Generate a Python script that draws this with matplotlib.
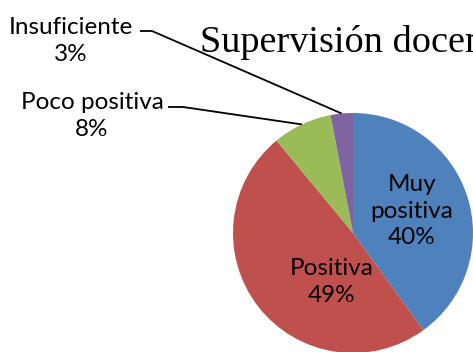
import numpy as np
import matplotlib
matplotlib.use("Agg")
import matplotlib.pyplot as plt

# Survey results: perception of teacher supervision
categories = ["Muy positiva", "Positiva", "Poco positiva", "Insuficiente"]
percentages = [40, 49, 8, 3]
colors = ["#4F81BD", "#C0504D", "#9BBB59", "#8064A2"]
title = "Supervisión docente"

W, H = 473, 352
fig = plt.figure(figsize=(W / 100, H / 100), dpi=100)
ax = fig.add_axes([0, 0, 1, 1])

def yi(y):
    """Convert a top-down pixel row into the axes' bottom-up coordinate."""
    return H - y

cx, cy, R = 353, yi(233), 120
wedges, _ = ax.pie(percentages, colors=colors, startangle=90, counterclock=False,
                   center=(cx, cy), radius=R,
                   wedgeprops=dict(linewidth=0))
ax.set_xlim(0, W)
ax.set_ylim(0, H)
ax.set_aspect("equal")
ax.axis("off")

label_font = dict(family=["Lato", "DejaVu Sans"], fontsize=17.5, color="black")

def wedge_point(i):
    w = wedges[i]
    ang = np.deg2rad((w.theta1 + w.theta2) / 2)
    return cx + R * np.cos(ang), cy + R * np.sin(ang)

# Inside labels
ax.text(412, yi(211), f"{categories[0]}\n{percentages[0]}%".replace("Muy positiva", "Muy\npositiva"),
        ha="center", va="center", multialignment="center", linespacing=1.35, **label_font)
ax.text(332, yi(282), f"{categories[1]}\n{percentages[1]}%",
        ha="center", va="center", multialignment="center", linespacing=1.35, **label_font)

# Outside labels with leader lines
ax.text(71, yi(41), f"{categories[3]}\n{percentages[3]}%",
        ha="center", va="center", multialignment="center", linespacing=1.38, **label_font)
px, py = wedge_point(3)
ax.plot([140, 152, px], [yi(31), yi(31), py], color="black", lw=1.3,
        solid_capstyle="butt")

ax.text(92, yi(116), f"{categories[2]}\n{percentages[2]}%",
        ha="center", va="center", multialignment="center", linespacing=1.38, **label_font)
px, py = wedge_point(2)
ax.plot([168, 183, px], [yi(107), yi(107), py], color="black", lw=1.3,
        solid_capstyle="butt")

# Title (extends past the right edge)
ax.text(200, yi(52), title, ha="left", va="baseline",
        family=["Liberation Serif", "DejaVu Serif"], fontsize=27.5, color="black")

fig.savefig("out.png", dpi=100)
